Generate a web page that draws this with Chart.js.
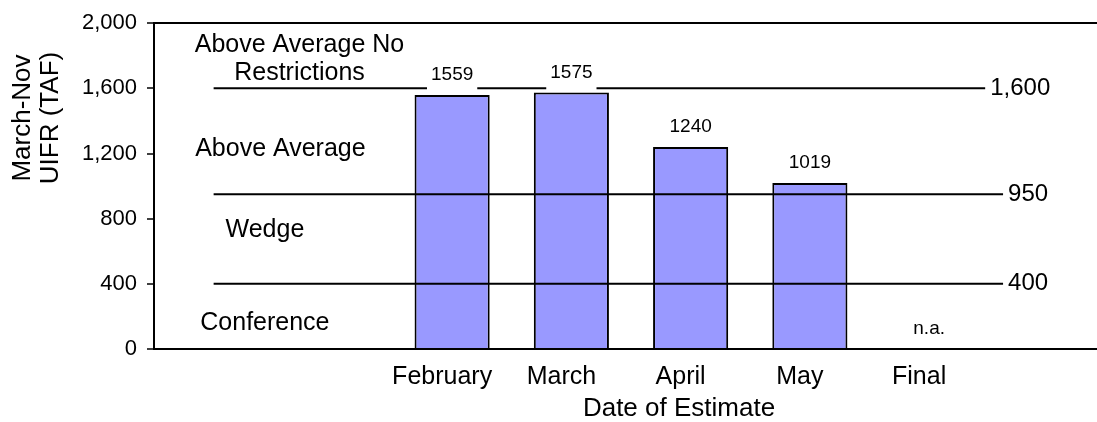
<!DOCTYPE html>
<html>
<head>
<meta charset="utf-8">
<script src="https://cdn.jsdelivr.net/npm/chart.js@4/dist/chart.umd.min.js"></script>
<style>
  html, body { margin: 0; padding: 0; background: #fff; overflow: hidden; }
  #wrap { position: relative; width: 1108px; height: 422px; }
</style>
</head>
<body>
<div id="wrap"><canvas id="chart"></canvas></div>
<script>
// Chart data
const categories = ['', '', 'February', 'March', 'April', 'May', 'Final', ''];
const values = [null, null, 1559, 1575, 1240, 1019, null, null];

// Threshold lines (value, where the line stops on the category index scale)
const refLevels = [1600, 950, 400];
const refStart = 0;
const refEnds = [6.47, 6.62, 6.62];

// Zone names, anchored in category-index / value units
const zoneNames = [['Above Average No', 'Restrictions'], ['Above Average'], ['Wedge'], ['Conference']];
const zoneX = [0.72, 0.56, 0.43, 0.43];
const zoneY = [1779, 1225, 729, 158];

const yTitle = ['March-Nov', 'UIFR (TAF)'];
const xTitle = 'Date of Estimate';

const FONT = '"Liberation Sans", Arial, sans-serif';
Chart.defaults.font.family = FONT;
Chart.defaults.color = '#000';

// Draws the value labels, threshold values, zone names and axis titles
const overlay = {
    id: 'overlay',
    afterDatasetsDraw(chart) {
        const ctx = chart.ctx;
        const x = chart.scales.x, y = chart.scales.y, x2 = chart.scales.x2;
        ctx.save();
        ctx.textBaseline = 'middle';

        // bar labels, with a white box like the original
        ctx.font = '19px ' + FONT;
        ctx.textAlign = 'center';
        categories.forEach((c, i) => {
            if (!c) return;
            const v = values[i];
            const px = x.getPixelForValue(i);
            const py = y.getPixelForValue(v == null ? 0 : v) - 20;
            const txt = v == null ? 'n.a.' : String(v);
            if (v != null) {
                const w = ctx.measureText(txt).width + 8;
                ctx.fillStyle = '#fff';
                ctx.fillRect(px - w / 2, py - 14, w, 33);
            }
            ctx.fillStyle = '#000';
            ctx.fillText(txt, px, py);
        });

        // threshold values at the end of each line
        ctx.font = '24px ' + FONT;
        ctx.textAlign = 'left';
        refLevels.forEach((lv, i) => {
            ctx.fillText(lv.toLocaleString('en-US'), x2.getPixelForValue(refEnds[i]) + 5, y.getPixelForValue(lv));
        });

        // zone names
        ctx.font = '25px ' + FONT;
        ctx.textAlign = 'center';
        zoneNames.forEach((lines, i) => {
            const px = x2.getPixelForValue(zoneX[i]);
            const py = y.getPixelForValue(zoneY[i]);
            lines.forEach((t, j) => {
                ctx.fillText(t, px, py + (j - (lines.length - 1) / 2) * 28.5);
            });
        });

        // axis titles
        ctx.font = '26px ' + FONT;
        ctx.fillText(xTitle, 679, 409);
        ctx.translate(0, 118);
        ctx.rotate(-Math.PI / 2);
        ctx.fillText(yTitle[0], 0, 23);
        ctx.fillText(yTitle[1], 0, 51);
        ctx.restore();
    }
};

const refSets = refLevels.map((lv, i) => ({
    type: 'line',
    xAxisID: 'x2',
    data: [{ x: refStart, y: lv }, { x: refEnds[i], y: lv }],
    borderColor: '#000',
    borderWidth: 2,
    pointRadius: 0,
    order: 0
}));

new Chart(document.getElementById('chart'), {
    type: 'bar',
    data: {
        labels: categories,
        datasets: [{
            data: values,
            backgroundColor: '#9999ff',
            borderColor: '#000',
            borderWidth: 2,
            barPercentage: 0.63,
            categoryPercentage: 1,
            grouped: false,
            order: 1
        }].concat(refSets)
    },
    options: {
        responsive: true,
        maintainAspectRatio: false,
        animation: false,
        layout: { padding: { top: 20, left: 0, right: 0, bottom: 0 } },
        plugins: { legend: { display: false }, tooltip: { enabled: false } },
        scales: {
            x: {
                grid: { display: false, drawTicks: false },
                border: { display: true, color: '#000', width: 2 },
                ticks: { color: '#000', font: { size: 25 }, padding: 13, labelOffset: -10, autoSkip: false, maxRotation: 0 },
                afterFit(s) { s.height = 73; }
            },
            x2: { type: 'linear', display: false, offset: false, min: -0.5, max: 7.5 },
            y: {
                min: 0,
                max: 2000,
                ticks: { stepSize: 400, color: '#000', font: { size: 22 }, padding: 10 },
                grid: {
                    color: c => (c.tick && c.tick.value === 2000) ? '#000' : 'rgba(0,0,0,0)',
                    lineWidth: 2,
                    tickColor: '#000',
                    tickLength: 7,
                    tickWidth: 1.5
                },
                border: { display: true, color: '#000', width: 2 },
                afterFit(s) { s.width = 154; }
            }
        }
    },
    plugins: [overlay]
});
</script>
</body>
</html>
